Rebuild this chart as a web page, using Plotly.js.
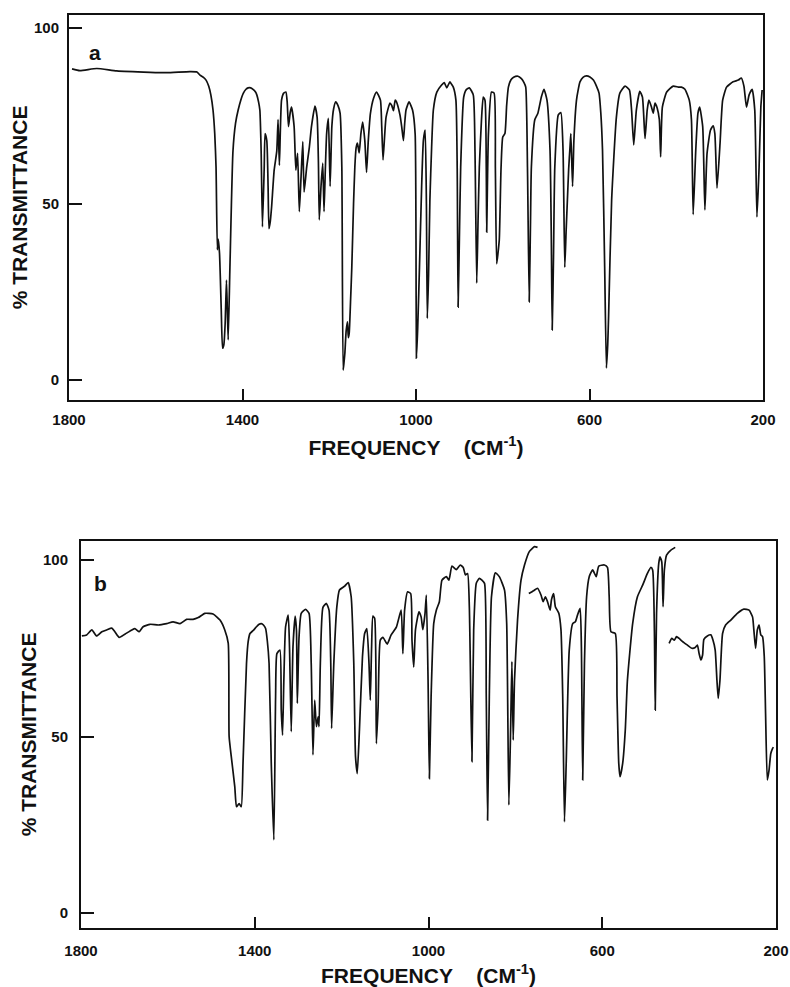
<!DOCTYPE html>
<html>
<head>
<meta charset="utf-8">
<script src="https://cdn.plot.ly/plotly-3.0.1.min.js"></script>
<style>html,body{margin:0;padding:0;background:#fff;}#chart{width:790px;height:987px;}</style>
</head>
<body>
<div id="chart"></div>
<script>
// Panel a: wavenumber (cm-1) and % transmittance
const a_wn = [1793,1775,1736,1690,1613,1575,1521,1505,1498,1490,1484,1478,1473,1468,1464,1461,1458,1456,1453,1449,1446,1443,1440,1437,1435,1433,1429,1422,1416,1410,1404,1398,1392,1387,1381,1375,1370,1367,1363,1360,1357,1354,1350,1348,1344,1341,1339,1336,1333,1327,1321,1318,1315,1310,1305,1300,1297,1294,1290,1287,1281,1277,1273,1269,1265,1261,1258,1252,1246,1241,1233,1228,1225,1223,1219,1215,1212,1209,1206,1202,1198,1194,1190,1185,1180,1175,1171,1168,1166,1164,1161,1158,1156,1154,1151,1148,1144,1141,1138,1135,1131,1127,1123,1118,1114,1110,1105,1098,1091,1082,1079,1076,1072,1069,1060,1056,1052,1048,1045,1037,1033,1029,1026,1023,1016,1008,1002,1000,999,996,992,987,983,979,976,974,971,968,964,960,952,941,935,929,922,918,914,908,905,903,900,897,890,884,877,868,864,860,857,854,849,845,841,838,837,835,833,826,820,817,814,811,808,804,800,795,791,787,781,775,765,757,751,747,743,739,736,734,726,719,711,705,698,691,688,686,683,680,672,666,661,657,654,651,648,645,643,639,636,630,626,622,615,607,599,591,584,578,574,570,565,561,558,556,549,538,530,518,508,503,498,492,484,478,472,467,463,457,453,449,444,439,436,432,422,407,395,388,380,370,365,361,355,350,346,339,334,329,321,315,311,306,299,293,284,269,257,250,244,238,232,225,219,214,209,205,202];
const a_T = [88.4,87.9,88.5,87.8,87.4,87.3,87.6,87.5,86.6,86,85.2,83.5,81,76.7,70,60.5,37,40,36,20,9,10,16,28.4,20,11.4,32,65,73,76.7,79.5,81.5,82.6,83,83,82.5,81.8,81,79,76.7,65,43.5,60,70,68,55,43,45,49,59.6,65,74,61,79.5,81.5,81.8,79,72,76,77.5,72,59.6,64.4,47.8,57.7,67.7,53.4,60.5,66,72,77.8,74.7,62,45.5,55,61.6,47.8,60,70,74.3,55,72,77,79,78,75.8,60.5,2.8,5,7.6,14,16.5,12,13.3,22,32,50,60.5,66,67.3,64.5,70,73.3,68,59,68,75.8,80,81.8,79.5,72,62.5,70,74.7,78.7,78,76.5,79.5,79,75.3,72,68,73,76.7,79,76.7,70,40,6.2,15,32,55,68,71,50,17.5,30,51,66,76.7,81.8,83.8,84.5,83,84.7,84,83.2,79.5,60,20.7,40,60.5,80.4,82.5,83,81,65,27.5,45,60.5,74,80.4,79.5,60,42,58,70,81.8,81.5,60,33,36,39.8,60,69,70,78,83.2,85.3,86,86.3,85.6,84.5,83.2,60.5,22.2,45,60.5,74,75.8,80.4,82.6,79.5,65.3,40,14.2,35,60.5,75.3,76,65.3,32,42,51,60,66,70,55,68,79.5,82.5,84.7,86,86.4,86.1,85.2,83.5,81.5,76,65.3,32,3.4,10,18,51,74.7,81.5,83.5,82.4,76.7,66.8,76.7,82,80.4,68.6,76.7,79.5,77.5,75.8,78.7,77.3,74,63.4,77.5,81.8,83.5,83.2,83.2,82.6,79.5,74,47,65.3,75.8,77.5,72,48.3,64.4,71,72.2,70,54.5,67.3,79.5,83.2,84.7,85.2,85.8,83.5,77.5,81,82.6,76.7,46.3,60.5,77.5,82.4];

// Panel b: three pen segments
const b1_wn = [1798,1787,1775,1764,1752,1741,1729,1722,1712,1699,1683,1676,1666,1657,1641,1622,1603,1588,1572,1557,1542,1530,1515,1496,1480,1469,1461,1459,1454,1446,1442,1436,1431,1427,1419,1415,1411,1404,1396,1390,1385,1380,1375,1371,1367,1362,1356,1352,1349,1342,1339,1336,1333,1329,1323,1320,1316,1312,1307,1304,1302,1298,1293,1283,1275,1270,1266,1262,1258,1254,1252,1249,1243,1235,1229,1225,1223,1218,1211,1205,1193,1185,1178,1172,1168,1164,1159,1152,1147,1142,1137,1134,1131,1128,1124,1120,1116,1111,1105,1095,1086,1074,1063,1059,1055,1048,1041,1038,1034,1030,1022,1017,1013,1008,1005,1001,998,994,988,982,975,969,959,953,946,936,927,920,915,910,906,900,896,890,883,877,871,867,864,860,855,846,837,825,820,815,811,808,805,802,795,787,779,768,756,749];
const b1_T = [78.5,78.8,80.2,78.5,79.7,80.2,80.7,79.7,78.1,79,80.2,80.6,79.7,81.1,81.8,81.6,82,82.5,82,83.2,83.2,83.7,84.9,84.7,83,80.2,76.4,50,44.3,35.8,30.1,31,30.1,42.4,70.7,77,79.2,80,81.1,81.8,82,81.6,80.6,77,70.7,42.4,20.7,61.3,73.5,74.5,57.5,50.4,66,81.1,84.4,75.4,51.4,75.4,84.1,80.2,59.4,78.3,84.9,86,84.9,70.7,44.8,60.3,52.8,55.6,52.8,70.7,86.6,87.7,85.8,70.7,52.3,70.7,86.8,91.5,92.6,93.6,89.6,70.7,44.3,39.5,51.8,72.6,79.2,80.6,70.7,60.3,75.4,84.1,83.5,48,58.4,77.3,78.1,76.2,78.8,81,85.8,73.5,85.8,91,90.5,77.3,69.7,80.2,85.3,83.9,80.3,84.9,90.1,66,38.1,61.3,82,85.8,88.2,94.3,95.3,94.3,98.3,97.3,98.6,97.9,95.8,96.2,86.8,42.9,80.2,93.4,94.8,94.3,93.4,61.3,26.3,61.3,89.6,96.4,95.3,91.5,82,30.6,51.8,71.2,49,66,83,94.3,98.6,102.4,103.8,103.6];
const b2_wn = [769,758,749,741,736,731,726,720,717,712,708,700,695,691,687,683,676,668,662,657,651,648,645,641,636,630,622,614,608,595,588,584,580,570,566,562,559,553,547,542,530,519,507,496,488,484,480,478,475,470,467,463,460,457,452,442,432];
const b2_T = [90.5,91.3,92,90.1,88.2,89.6,88.2,85.8,88.7,90.5,86.8,84.9,80.2,61.3,25.8,42.4,74.5,82,82.5,84.4,86.3,75.4,37.7,70.7,89.6,95.3,97.2,95.3,98.3,98.6,97.9,89.6,79.7,79.2,61.3,42.4,38.6,42.4,51.8,66,82,89.6,92.9,96.2,97.9,97.2,80.2,57.5,84.9,99,100.9,99.5,86.8,97.2,101.4,102.8,103.6];
const b3_wn = [446,440,434,429,423,415,404,394,386,381,377,373,369,366,358,350,345,340,336,333,329,323,316,304,289,274,262,254,251,247,243,239,235,231,227,224,220,216,212,208,206];
const b3_T = [76.4,77.8,77.3,78.3,77.8,76.9,75.9,75,75.2,75.9,73.5,71.7,73.1,77.5,78.5,78.8,77.3,74.5,66,60.8,66,79.2,81.6,83,84.9,86.1,85.8,83.9,80.2,75,80.2,81.6,78.8,78.3,72.6,56.5,37.7,40.5,45.2,46.6,47];

const xTicks = [1800, 1400, 1000, 600, 200];
const yTicks = [0, 50, 100];
const panelLabels = ['a', 'b'];
const yTitle = '% TRANSMITTANCE';
const xTitle = 'FREQUENCY\u00A0\u00A0\u00A0\u00A0(CM<sup>-1</sup>)';

const FONT = 'Liberation Sans, Arial, sans-serif';
const line = {color: '#111', width: 1.7, shape: 'spline', smoothing: 0.5};
const mk = (x, y, xa, ya) => ({x, y, xaxis: xa, yaxis: ya, type: 'scatter', mode: 'lines', line, hoverinfo: 'skip'});
const traces = [
  mk(a_wn, a_T, 'x', 'y'),
  mk(b1_wn, b1_T, 'x2', 'y2'),
  mk(b2_wn, b2_T, 'x2', 'y2'),
  mk(b3_wn, b3_T, 'x2', 'y2')
];

const tickFont = {family: FONT, size: 15, color: '#111', weight: 700};
const titleFont = {family: FONT, size: 21, color: '#111', weight: 700};
function xa(domain, anchor, standoff, labStand) {
  return {domain, anchor, range: [1800, 200], tickmode: 'array', tickvals: xTicks, ticktext: xTicks.map(String),
    ticks: 'inside', ticklen: 11, tickwidth: 2, tickcolor: '#111', showline: true, linewidth: 2, linecolor: '#111',
    mirror: true, showgrid: false, zeroline: false, tickfont: tickFont, ticklabelstandoff: labStand,
    title: {text: xTitle, font: titleFont, standoff}, automargin: false, fixedrange: true};
}
function ya(domain, anchor, range, standoff, labStand) {
  return {domain, anchor, range, tickmode: 'array', tickvals: yTicks, ticktext: yTicks.map(String),
    ticks: 'inside', ticklen: 13, tickwidth: 2, tickcolor: '#111', showline: true, linewidth: 2, linecolor: '#111',
    mirror: true, showgrid: false, zeroline: false, tickfont: tickFont, ticklabelstandoff: labStand,
    title: {text: yTitle, font: titleFont, standoff}, automargin: false, fixedrange: true};
}

const layout = {
  width: 790, height: 987, margin: {l: 0, r: 0, t: 0, b: 0},
  paper_bgcolor: '#fff', plot_bgcolor: '#fff', showlegend: false,
  xaxis: xa([69/790, 763/790], 'y', 13, 5),
  yaxis: ya([1 - 400/987, 1 - 15/987], 'x', [-5.7, 103.7], 1, 5),
  xaxis2: xa([81/790, 776/790], 'y2', 17, 8),
  yaxis2: ya([1 - 928/987, 1 - 541/987], 'x2', [-4.25, 105.4], 1, 8),
  annotations: [
    {text: panelLabels[0], x: 1740, y: 93, xref: 'x', yref: 'y', showarrow: false, font: {family: FONT, size: 21, color: '#111', weight: 700}},
    {text: panelLabels[1], x: 1756, y: 93.5, xref: 'x2', yref: 'y2', showarrow: false, font: {family: FONT, size: 21, color: '#111', weight: 700}}
  ]
};

Plotly.newPlot('chart', traces, layout, {staticPlot: true, displayModeBar: false});
</script>
</body>
</html>
